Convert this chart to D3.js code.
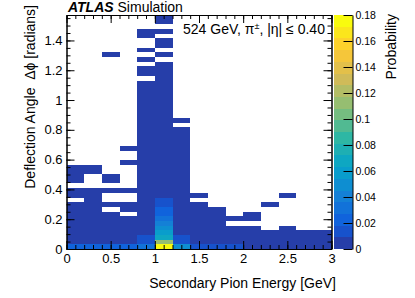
<!DOCTYPE html>
<html><head><meta charset="utf-8">
<script src="https://cdn.jsdelivr.net/npm/d3@7"></script>
<style>
body{margin:0;background:#fff}
svg{display:block}
text{font-family:"Liberation Sans",Arial,Helvetica,sans-serif;fill:#000}
</style>
</head><body>
<script>
// ---------------- data ----------------
// energy bin edges (GeV)
const energyEdges = [0,0.2,0.4,0.6,0.8,1.0,1.2,1.4,1.6,1.8,2.0,2.2,2.4,2.6,2.8,3.0];
// deflection angle binning: 50 bins from 0 to pi/2
const angleBinCount = 50;
const angleMax = Math.PI / 2;
// probability per angle bin (index 0 = lowest angle) for each energy bin; 0 = empty
const probE00 = [0.020,0.004,0.004,0.004,0.004,0.004,0.004,0.004,0.004,0.004,0,0.004,0.004,0,0.004,0.004,0.004,0.004];
const probE02 = [0.020,0.004,0.004,0.004,0.004,0.004,0.004,0.004,0.004,0.004,0.004,0.004,0.004,0,0,0,0.004,0.004];
const probE04 = [0.020,0.004,0.004,0.004,0.004,0.004,0.004,0.004,0,0.004,0,0,0.004,0,0.004,0.004,
  0,0,0,0,0,0,0,0,0,0,0,0,0,0,0,0,0,0,0,0,0,0,0,0,0,0.004];
const probE06 = [0.022,0.004,0.004,0.004,0.004,0.004,0.004,0,0.004,0.004,0,0,0.004,0,0,0,0,0,0.004,0,0,0.004];
const probE08 = [0.033,0.012,0.012,0.004,0.004,0.004,0.004,0.004,0.004,0.004,0.004,0.004,0.004,0.004,0.004,0.004,
  0.004,0.004,0.004,0.004,0.004,0.004,0.004,0.004,0.004,0.004,0.004,0.004,0.004,0.004,0.004,0.004,0.004,0.004,0.004,0.004,
  0,0.004,0.004,0,0.004,0,0.004,0,0,0.004,0.004];
const probE10 = [0.176,0.113,0.066,0.057,0.048,0.040,0.032,0.025,0.019,0.014,0.011,0.004,0.004,0.004,0.004,0.004,
  0.004,0.004,0.004,0.004,0.004,0.004,0.004,0.004,0.004,0.004,0.004,0.004,0.004,0.004,0.004,0.004,0.004,0.004,0.004,0.004,
  0.004,0.004,0.004,0.004,0,0.004,0,0.004,0.004,0,0.004,0,0.004,0.004];
const probE12 = [0.046,0.012,0.012,0.004,0.004,0.004,0.004,0.004,0.004,0.004,0.004,0.004,0.004,0.004,0.004,0.004,
  0.004,0.004,0.004,0.004,0.004,0.004,0.004,0.004,0.004,0.004,0,0.004];
const probE14 = [0.016,0.004,0.004,0.004,0.004,0.004,0.004,0.004,0.004,0.004,0,0.004];
const probE16 = [0.015,0.004,0.004,0.004,0.004,0.004,0.004,0.004,0.004];
const probE18 = [0.014,0.004,0.004,0.004,0.004,0,0.004];
const probE20 = [0.004,0.004,0.004,0.004,0.004,0,0.004,0.004];
const probE22 = [0.004,0.004,0.004,0.004,0,0,0,0,0,0.004];
const probE24 = [0.004,0.004,0.004,0.004,0.004,0,0,0,0,0,0,0.004];
const probE26 = [0.004,0.004,0.004,0.004];
const probE28 = [0.004,0.004,0.004,0.004];
const probColumns = [probE00,probE02,probE04,probE06,probE08,probE10,probE12,probE14,probE16,probE18,probE20,probE22,probE24,probE26,probE28];

const xTicks = [0,0.5,1,1.5,2,2.5,3];
const yTicks = [0,0.2,0.4,0.6,0.8,1,1.2,1.4];
const zTicks = [0,0.02,0.04,0.06,0.08,0.1,0.12,0.14,0.16,0.18];
const zMax = 0.18, nContours = 20;

// ROOT kBird palette stops
const birdStops = [0.0,0.125,0.25,0.375,0.5,0.625,0.75,0.875,1.0];
const birdR = [0.2082,0.0592,0.0780,0.0232,0.1802,0.5301,0.8186,0.9956,0.9764];
const birdG = [0.1664,0.3599,0.5041,0.6419,0.7178,0.7492,0.7328,0.7862,0.9832];
const birdB = [0.5293,0.8684,0.8385,0.7914,0.6425,0.4662,0.3499,0.1968,0.0539];

// ---------------- drawing ----------------
const W = 415, H = 298;
const L = 66.5, R = 331.5, T = 15, B = 249;
const svg = d3.select("body").append("svg").attr("width", W).attr("height", H);

const x = d3.scaleLinear().domain([0, 3]).range([L, R]);
const y = d3.scaleLinear().domain([0, angleMax]).range([B, T]);
const z = d3.scaleLinear().domain([0, zMax]).range([B, T]);

const rS = d3.scaleLinear().domain(birdStops).range(birdR);
const gS = d3.scaleLinear().domain(birdStops).range(birdG);
const bS = d3.scaleLinear().domain(birdStops).range(birdB);
function bandColor(i) {
  const f = (i + 0.99) / nContours;
  return d3.rgb(rS(f) * 255, gS(f) * 255, bS(f) * 255).toString();
}
function colorOf(v) {
  const i = Math.max(0, Math.min(nContours - 1, Math.floor(v / (zMax / nContours))));
  return bandColor(i);
}

const dA = angleMax / angleBinCount;
const cells = [];
probColumns.forEach((col, j) => {
  col.forEach((v, i) => {
    if (v > 0) cells.push({e0: energyEdges[j], e1: energyEdges[j + 1], a0: i * dA, a1: (i + 1) * dA, v});
  });
});
svg.append("g").attr("shape-rendering", "crispEdges").selectAll("rect").data(cells).join("rect")
  .attr("x", d => x(d.e0)).attr("width", d => x(d.e1) - x(d.e0))
  .attr("y", d => y(d.a1)).attr("height", d => y(d.a0) - y(d.a1))
  .attr("fill", d => colorOf(d.v));

// axes
const fmt = d => String(+(+d).toFixed(2));
const axStyle = g => { g.selectAll("line").attr("stroke", "#000"); g.select(".domain").attr("stroke", "#000"); g.selectAll("text").attr("font-size", 13).attr("font-family", null); };
const xMinor = d3.range(0, 3.001, 0.1);
const yMinor = d3.range(0, 1.5708, 0.05);

svg.append("g").attr("transform", `translate(0,${B})`)
  .call(d3.axisBottom(x).tickValues(xMinor).tickSize(-4).tickSizeOuter(0).tickFormat("")).call(axStyle);
svg.append("g").attr("transform", `translate(0,${B})`)
  .call(d3.axisBottom(x).tickValues(xTicks).tickSize(-8).tickSizeOuter(0).tickPadding(5).tickFormat(fmt)).call(axStyle);
svg.append("g").attr("transform", `translate(0,${T})`)
  .call(d3.axisTop(x).tickValues(xMinor).tickSize(-4).tickSizeOuter(0).tickFormat("")).call(axStyle);
svg.append("g").attr("transform", `translate(0,${T})`)
  .call(d3.axisTop(x).tickValues(xTicks).tickSize(-8).tickSizeOuter(0).tickFormat("")).call(axStyle);

svg.append("g").attr("transform", `translate(${L},0)`)
  .call(d3.axisLeft(y).tickValues(yMinor).tickSize(-4).tickSizeOuter(0).tickFormat("")).call(axStyle);
svg.append("g").attr("transform", `translate(${L},0)`)
  .call(d3.axisLeft(y).tickValues(yTicks).tickSize(-8).tickSizeOuter(0).tickPadding(4).tickFormat(fmt)).call(axStyle);
svg.append("g").attr("transform", `translate(${R},0)`)
  .call(d3.axisRight(y).tickValues(yMinor).tickSize(-4).tickSizeOuter(0).tickFormat("")).call(axStyle);
svg.append("g").attr("transform", `translate(${R},0)`)
  .call(d3.axisRight(y).tickValues(yTicks).tickSize(-8).tickSizeOuter(0).tickFormat("")).call(axStyle);

// colour bar
const CL = 333.5, CR = 352.5;
svg.append("g").attr("shape-rendering", "crispEdges").selectAll("rect").data(d3.range(nContours)).join("rect")
  .attr("x", CL).attr("width", CR - CL)
  .attr("y", i => z((i + 1) * zMax / nContours))
  .attr("height", i => z(i * zMax / nContours) - z((i + 1) * zMax / nContours))
  .attr("fill", i => bandColor(i));
svg.append("g").attr("transform", `translate(${CR},0)`)
  .call(d3.axisRight(z).tickValues(zTicks).tickSize(-9).tickSizeOuter(0).tickPadding(3).tickFormat(fmt))
  .call(axStyle).call(g => g.selectAll("text").attr("font-size", 10.5));

// titles
svg.append("text").attr("x", 336).attr("y", 288).attr("text-anchor", "end")
  .attr("font-size", 14).text("Secondary Pion Energy [GeV]");
svg.append("text").attr("transform", "translate(35,5) rotate(-90)").attr("text-anchor", "end")
  .attr("font-size", 14).attr("xml:space", "preserve").style("white-space", "pre")
  .text("Deflection Angle  \u0394\u03d5 [radians]");
svg.append("text").attr("transform", "translate(395.5,14) rotate(-90)").attr("text-anchor", "end")
  .attr("font-size", 14).text("Probability");

const atl = svg.append("text").attr("x", 68).attr("y", 11.5).attr("font-size", 14);
atl.append("tspan").attr("font-weight", "bold").attr("font-style", "italic").text("ATLAS");
atl.append("tspan").text(" Simulation");

const lab = svg.append("text").attr("x", 183).attr("y", 33.5).attr("font-size", 14);
lab.append("tspan").text("524 GeV, \u03c0");
lab.append("tspan").attr("font-size", 9).attr("dy", -5).text("\u00b1");
lab.append("tspan").attr("dy", 5).text(", |\u03b7| \u2264 0.40");
</script>
</body></html>
